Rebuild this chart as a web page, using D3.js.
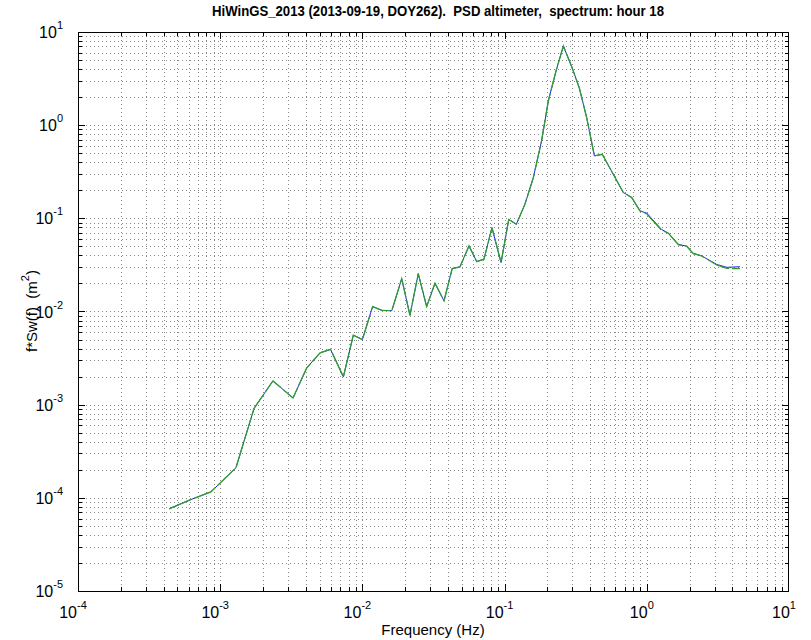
<!DOCTYPE html>
<html><head><meta charset="utf-8">
<script src="https://cdn.jsdelivr.net/npm/d3@7"></script>
<style>body{margin:0;background:#fff}svg{display:block}text{font-family:"Liberation Sans",Arial,sans-serif;white-space:pre}</style>
</head><body>
<svg id="c" width="811" height="640"></svg>
<script>
const title = "HiWinGS_2013 (2013-09-19, DOY262).  PSD altimeter,  spectrum: hour 18";
const xLabel = "Frequency (Hz)";
const freq = [4.37e-4,6.13e-4,8.61e-4,1.29e-3,1.73e-3,2.35e-3,3.25e-3,4.06e-3,5.04e-3,5.97e-3,7.35e-3,8.63e-3,1.00e-2,1.18e-2,1.37e-2,1.61e-2,1.89e-2,2.16e-2,2.47e-2,2.83e-2,3.24e-2,3.75e-2,4.28e-2,4.85e-2,5.62e-2,6.37e-2,7.16e-2,8.15e-2,9.44e-2,0.107,0.121,0.139,0.159,0.182,0.203,0.230,0.259,0.297,0.335,0.378,0.428,0.486,0.581,0.684,0.784,0.895,0.998,1.27,1.42,1.67,1.91,2.12,2.43,3.10,3.65,4.52];
const green = [7.62e-5,9.5e-5,1.16e-4,2.10e-4,9.12e-4,1.80e-3,1.18e-3,2.48e-3,3.60e-3,3.92e-3,1.99e-3,5.57e-3,5.0e-3,1.13e-2,1.03e-2,1.02e-2,2.25e-2,9.1e-3,2.55e-2,1.13e-2,2.01e-2,1.30e-2,2.89e-2,3.01e-2,5.06e-2,3.43e-2,3.64e-2,7.95e-2,3.35e-2,9.73e-2,8.65e-2,0.142,0.271,0.677,1.82,3.82,7.08,4.21,2.52,1.20,0.467,0.487,0.297,0.189,0.167,0.120,0.112,7.45e-2,6.92e-2,5.19e-2,5.02e-2,4.18e-2,3.95e-2,3.16e-2,2.90e-2,2.88e-2];
const blue = [7.62e-5,9.5e-5,1.16e-4,2.10e-4,9.12e-4,1.80e-3,1.18e-3,2.48e-3,3.60e-3,3.92e-3,1.99e-3,5.57e-3,5.0e-3,1.13e-2,1.03e-2,1.02e-2,2.25e-2,9.1e-3,2.55e-2,1.13e-2,2.01e-2,1.30e-2,2.89e-2,3.01e-2,5.06e-2,3.43e-2,3.64e-2,7.95e-2,3.35e-2,9.73e-2,8.65e-2,0.142,0.271,0.677,1.82,3.82,7.08,4.21,2.52,1.20,0.467,0.487,0.297,0.189,0.167,0.120,0.114,7.6e-2,6.92e-2,5.25e-2,5.02e-2,4.22e-2,3.95e-2,3.20e-2,2.98e-2,3.02e-2];
const xTickExp = [-4,-3,-2,-1,0,1];
const yTickExp = [1,0,-1,-2,-3,-4,-5];

const svg = d3.select("#c");
const L=78, R=789, T=32, B=591;
const x = d3.scaleLog().domain([1e-4,1e1]).range([L,R]);
const y = d3.scaleLog().domain([1e-5,1e1]).range([B,T]);

const xAll=[], yAll=[];
for(let e=-4;e<1;e++) for(let m=1;m<10;m++) xAll.push(m*Math.pow(10,e));
for(let e=-5;e<1;e++) for(let m=1;m<10;m++) yAll.push(m*Math.pow(10,e));

const g = svg.append("g");
const gridStyle = s => s.attr("stroke","#555").attr("stroke-width",0.7).attr("stroke-dasharray","1,3").attr("shape-rendering","crispEdges");
g.selectAll(".gx").data(xAll.filter(v=>v>1e-4)).enter().append("line")
 .attr("x1",d=>Math.round(x(d))+0.5).attr("x2",d=>Math.round(x(d))+0.5).attr("y1",T).attr("y2",B).call(gridStyle);
g.selectAll(".gy").data(yAll.filter(v=>v>1e-5)).enter().append("line")
 .attr("y1",d=>Math.round(y(d))+0.5).attr("y2",d=>Math.round(y(d))+0.5).attr("x1",L).attr("x2",R).call(gridStyle);

const tk = g.append("g").attr("stroke","#000").attr("stroke-width",1).attr("shape-rendering","crispEdges");
xAll.forEach(v=>{
  const major = Math.abs(Math.log10(v)-Math.round(Math.log10(v)))<1e-9;
  const len = major?7:4, px=Math.round(x(v))+0.5;
  tk.append("line").attr("x1",px).attr("x2",px).attr("y1",B).attr("y2",B-len);
  tk.append("line").attr("x1",px).attr("x2",px).attr("y1",T).attr("y2",T+len);
});
yAll.forEach(v=>{
  const major = Math.abs(Math.log10(v)-Math.round(Math.log10(v)))<1e-9;
  const len = major?7:4, py=Math.round(y(v))+0.5;
  tk.append("line").attr("y1",py).attr("y2",py).attr("x1",L).attr("x2",L+len);
  tk.append("line").attr("y1",py).attr("y2",py).attr("x1",R).attr("x2",R-len);
});

const line = vals => d3.line().x((d,i)=>x(freq[i])).y(d=>y(d))(vals);
g.append("path").attr("d",line(blue)).attr("fill","none").attr("stroke","#2020ff").attr("stroke-width",1);
g.append("path").attr("d",line(green)).attr("fill","none").attr("stroke","#2e9e2e").attr("stroke-width",1.3).attr("stroke-dasharray","24,3");

g.append("rect").attr("x",L+0.5).attr("y",T+0.5).attr("width",R-L-1).attr("height",B-T).attr("fill","none").attr("stroke","#000").attr("stroke-width",1).attr("shape-rendering","crispEdges");

const fs = 16;
xTickExp.forEach(e=>{
  const t = svg.append("text").attr("x",x(Math.pow(10,e))-5).attr("y",618).attr("font-size",fs).attr("text-anchor","middle");
  t.append("tspan").text("10");
  t.append("tspan").attr("dy",-9).attr("font-size",11).text(e);
});
yTickExp.forEach(e=>{
  const t = svg.append("text").attr("x",63).attr("y",y(Math.pow(10,e))+6).attr("font-size",fs).attr("text-anchor","end");
  t.append("tspan").text("10");
  t.append("tspan").attr("dy",-9).attr("font-size",11).text(e);
});

svg.append("text").attr("x",438).attr("y",16).attr("text-anchor","middle").attr("font-size",14).attr("font-weight","bold").attr("textLength",452).attr("lengthAdjust","spacingAndGlyphs").text(title);
svg.append("text").attr("x",433).attr("y",635).attr("text-anchor","middle").attr("font-size",15).text(xLabel);
const yl = svg.append("text").attr("transform","translate(37,311) rotate(-90)").attr("text-anchor","middle").attr("font-size",15);
yl.append("tspan").text("f*Sw(f)  (m");
yl.append("tspan").attr("dy",-8).attr("font-size",11).text("2");
yl.append("tspan").attr("dy",8).text(")");
</script>
</body></html>
